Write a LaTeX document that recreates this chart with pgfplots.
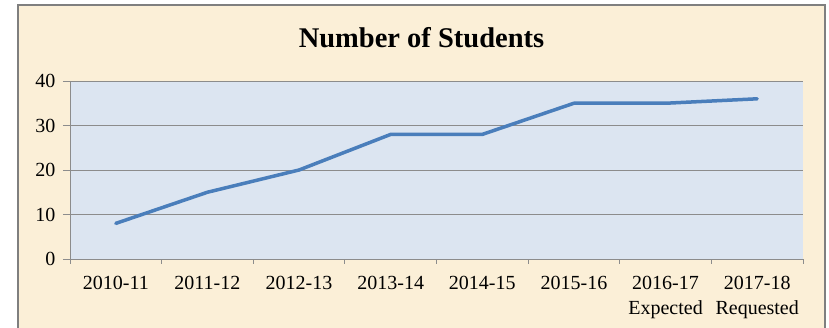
\documentclass[border=0pt]{standalone}
\usepackage{pgfplots}
\pgfplotsset{compat=1.18}
\usepackage{fontspec}
\setmainfont{Liberation Serif}
\definecolor{bgbeige}{HTML}{FBEFD7}
\definecolor{plotblue}{HTML}{DCE5F1}
\definecolor{linecol}{HTML}{4A7EBB}
\definecolor{framegray}{HTML}{7F7F7F}
\definecolor{gridgray}{HTML}{8C8C8C}
\begin{document}
\begin{tikzpicture}[x=1pt,y=1pt]
\useasboundingbox (0,0) rectangle (829,328);
\fill[white] (0,0) rectangle (829,328);
\fill[bgbeige] (18,0) rectangle (825,322.5);
\draw[framegray, line width=2pt] (18,0) -- (18,322.5) -- (825,322.5) -- (825,0);
\node[anchor=base, font=\fontsize{28.5}{32}\selectfont\bfseries] at (421.5,280) {Number of Students};
\begin{axis}[
  at={(70pt,69pt)}, anchor=south west,
  scale only axis, width=733pt, height=178pt,
  xmin=0.5, xmax=8.5, ymin=0, ymax=40,
  axis x line*=bottom, axis y line*=left,
  axis line style={gridgray, line width=0.8pt, -},
  axis background/.style={fill=plotblue},
  ytick={0,10,20,30,40},
  ymajorgrids, grid style={gridgray, line width=0.8pt},
  xtick={1,...,8},
  xticklabels={2010-11,2011-12,2012-13,2013-14,2014-15,2015-16,{2016-17\\Expected},{2017-18\\Requested}},
  minor xtick={0.5,1.5,...,8.5},
  tick align=outside,
  major tick length=7pt, minor tick length=5pt,
  x tick style={draw=none},
  minor x tick style={draw=gridgray, line width=0.8pt},
  y tick style={draw=gridgray, line width=0.8pt},
  tick label style={font=\fontsize{20}{24.5}\selectfont},
  xticklabel style={align=center, yshift=-7pt},
  yticklabel style={xshift=-4pt},
  /pgf/number format/assume math mode=true,
  clip=false,
]
\addplot[linecol, line width=3.5pt, line join=round, line cap=round] coordinates {
(1,8) (2,15) (3,20) (4,28) (5,28) (6,35) (7,35) (8,36)
};
\end{axis}
\end{tikzpicture}
\end{document}
